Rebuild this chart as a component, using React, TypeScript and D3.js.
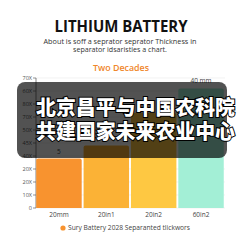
import React from "react";
import * as d3 from "d3";

const categories = ["20mm", "20in1", "20in2", "60in2"];
const values = [38, 48, 73, 92];
const barLabels = ["5", "", "", "40 mm"];
const barColors = ["#F8932F", "#FBB236", "#FEC842", "#A3EFD6"];
const tickValues = [0, 10, 20, 30, 40, 50, 60, 70, 80, 90, 100];
const tickLabels = ["0", "10X", "20X", "20X", "40X", "45X", "50X", "70X", "80X", "60X", "70X"];
const legendLabel = "Sury Battery 2028 Separanted tlickwors";
const overlayLines = ["北京昌平与中国农科院", "共建国家未来农业中心"];

export default function App() {
  const W = 243, H = 243;
  const x0 = 36, x1 = 224, yTop = 78, yBot = 208;
  const x = d3.scaleBand().domain(categories).range([x0, x1]).paddingInner(0.04).paddingOuter(0.005);
  const y = d3.scaleLinear().domain([0, 100]).range([yBot, yTop]);
  const font = "'Open Sans', 'DejaVu Sans', sans-serif";
  return (
    <svg width={W} height={H} style={{ position: "absolute", left: 0, top: 0, background: "#fff" }} fontFamily={font}>
      <rect width={W} height={H} fill="#fff" />
      <text x={121} y={32} textAnchor="middle" fontSize={16} fontWeight={700} fill="#111" textLength={133} lengthAdjust="spacingAndGlyphs">LITHIUM BATTERY</text>
      <text x={120} y={43.5} textAnchor="middle" fontSize={7} fill="#333" textLength={153} lengthAdjust="spacingAndGlyphs">About is soff a seprator seprator Thickness in</text>
      <text x={120} y={51.5} textAnchor="middle" fontSize={7} fill="#333" textLength={94} lengthAdjust="spacingAndGlyphs">separator idsaristies a chart.</text>
      <text x={121} y={71} textAnchor="middle" fontSize={9} fontWeight={600} fill="#F0862A" textLength={56} lengthAdjust="spacingAndGlyphs">Two Decades</text>
      {tickValues.map((t, i) => (
        <g key={i}>
          <line x1={x0} x2={x1 + 1} y1={y(t)} y2={y(t)} stroke="#ececec" strokeWidth={0.7} />
          <line x1={x0 - 3} x2={x0} y1={y(t)} y2={y(t)} stroke="#666" strokeWidth={0.7} />
          <text x={x0 - 4} y={y(t)} dy="0.35em" textAnchor="end" fontSize={5.5} fill="#555">{tickLabels[i]}</text>
        </g>
      ))}
      <line x1={x0} x2={x0} y1={yTop} y2={yBot} stroke="#666" strokeWidth={0.8} />
      {categories.map((c, i) => (
        <g key={c}>
          <path
            d={`M${x(c)},${yBot} V${y(values[i]) + 2} Q${x(c)},${y(values[i])} ${x(c)! + 2},${y(values[i])} H${x(c)! + x.bandwidth() - 2} Q${x(c)! + x.bandwidth()},${y(values[i])} ${x(c)! + x.bandwidth()},${y(values[i]) + 2} V${yBot} Z`}
            fill={barColors[i]}
          />
          <text x={x(c)! + x.bandwidth() / 2} y={y(values[i]) - 5} textAnchor="middle" fontSize={6.5} fill="#444">{barLabels[i]}</text>
          <text x={x(c)! + x.bandwidth() / 2} y={217} textAnchor="middle" fontSize={6.5} fill="#444">{c}</text>
        </g>
      ))}
      <circle cx={63} cy={228} r={2.6} fill="#F8932F" />
      <text x={68} y={230.3} fontSize={6.3} fill="#444" textLength={122} lengthAdjust="spacingAndGlyphs">{legendLabel}</text>
      <rect x={17} y={82} width={210} height={76} rx={8} fill="rgba(0,0,0,0.68)" />
      {overlayLines.map((l, i) => (
        <text key={i} x={135.5} y={108 + i * 24} dy="0.36em" textAnchor="middle" fontSize={20} fontWeight={900}
          fontFamily="'Noto Sans CJK SC', sans-serif" fill="#fff" stroke="#000" strokeWidth={2} paintOrder="stroke"
          textLength={199} lengthAdjust="spacingAndGlyphs">{l}</text>
      ))}
    </svg>
  );
}
